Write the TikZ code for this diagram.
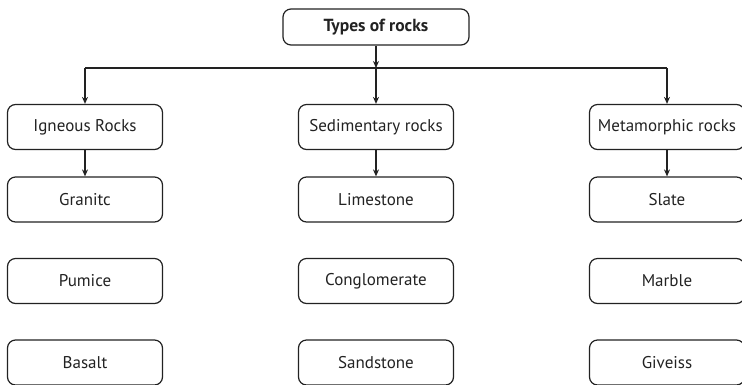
\documentclass[tikz,border=0pt]{standalone}
\usepackage{fontspec}
\setmainfont{PT Sans}
\usetikzlibrary{arrows.meta}
\definecolor{ink}{HTML}{222222}
\begin{document}
\begin{tikzpicture}[x=1pt,y=-1pt,
  box/.style={draw=ink,line width=1.2pt,rounded corners=8pt,minimum width=155pt,minimum height=45pt,inner sep=0pt,font=\fontsize{17}{19}\selectfont,text=ink},
  topbox/.style={box,minimum width=186pt,minimum height=36pt,font=\fontsize{17.5}{19}\selectfont\bfseries},
  link/.style={draw=ink,line width=1.2pt},
  arr/.style={link,-{Stealth[length=7pt,width=6pt]}}]
\useasboundingbox (0,0) rectangle (742,384);
\clip (0,0) rectangle (742,384);
\node[topbox] (top) at (376,27) {Types of rocks};
\node[box] (ign) at (85,127) {Igneous Rocks};
\node[box] (sed) at (376,127) {Sedimentary rocks};
\node[box] (met) at (667,127) {Metamorphic rocks};
\node[box] (gra) at (85,199.5) {Granitc};
\node[box] (pum) at (85,281) {Pumice};
\node[box] (bas) at (85,362.5) {Basalt};
\node[box] (lim) at (376,199.5) {Limestone};
\node[box] (con) at (376,281) {Conglomerate};
\node[box] (san) at (376,362.5) {Sandstone};
\node[box] (sla) at (667,199.5) {Slate};
\node[box] (mar) at (667,281) {Marble};
\node[box] (giv) at (667,362.5) {Giveiss};
\coordinate (j) at (376,68);
\coordinate (jl) at (85,68);
\coordinate (jr) at (667,68);
\draw[arr] (top.south) -- (j);
\draw[link] (jl) -- (jr);
\draw[arr] (j) -- (sed.north);
\draw[arr] (jl) -- (ign.north);
\draw[arr] (jr) -- (met.north);
\draw[arr] (ign.south) -- (gra.north);
\draw[arr] (sed.south) -- (lim.north);
\draw[arr] (met.south) -- (sla.north);
\end{tikzpicture}
\end{document}
